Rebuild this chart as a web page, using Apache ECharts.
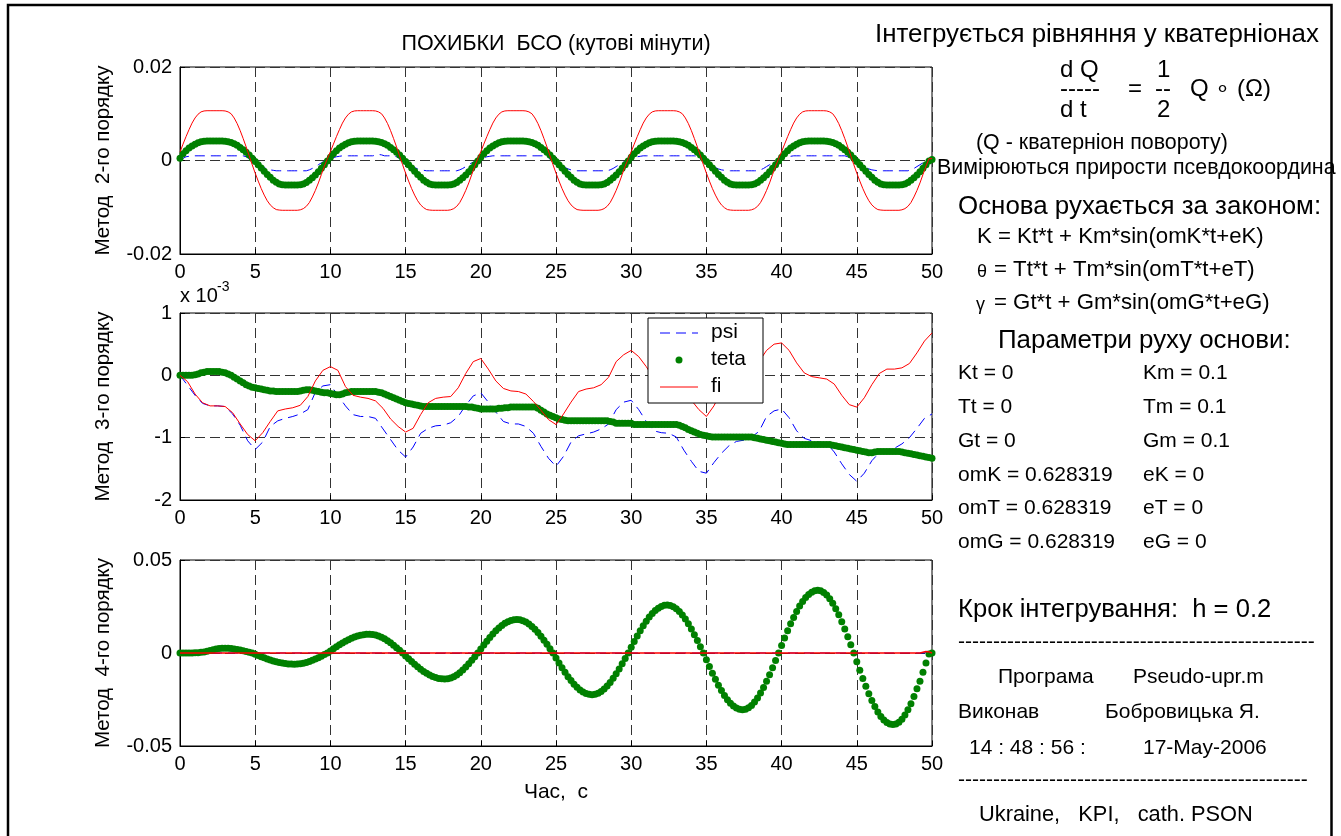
<!DOCTYPE html>
<html><head><meta charset="utf-8">
<script src="https://cdn.jsdelivr.net/npm/echarts@6/dist/echarts.min.js"></script>
<style>html,body{margin:0;padding:0;background:#fff}#c{width:1341px;height:836px}</style>
</head><body><div id="c"></div>
<script>
// ---------------- DATA ----------------
// time grid: integration step h = 0.2 s for the dotted series and plot 1 lines
const T_STEP = 0.2;
// psi / fi of plot 2 were read every 0.5 s
const T_STEP_LINE2 = 0.5;
const X_TICK_LABELS = [0, 5, 10, 15, 20, 25, 30, 35, 40, 45, 50];

// Plot 1 ("Метод 2-го порядку"), values in units of 1e-3
const psi1 = [
0,0.45,0.8,0.9,1.0, 1.0,1.0,1.0,1.0,1.0, 1.0,1.0,1.0,1.0,1.0, 1.0,1.0,1.0,1.0,1.0, 1.0,1.0,0.8,0.4,0.0, -0.4,-0.8,-1.2,-1.5,-1.8, -2.0,-2.1,-2.2,-2.2,-2.2, -2.2,-2.2,-2.2,-2.2,-2.2, -2.2,-2.2,-2.2,-2.0,-1.7, -1.3,-0.9,-0.5,-0.2,0.1,
0.3,0.6,0.8,0.9,1.0, 1.0,1.0,1.0,1.0,1.0, 1.0,1.0,1.0,1.0,1.0, 1.1,1.3,1.2,1.0,1.0, 1.0,1.0,0.8,0.4,0.0, -0.4,-0.8,-1.2,-1.5,-1.8, -2.0,-2.1,-2.2,-2.2,-2.2, -2.2,-2.2,-2.2,-2.2,-2.2, -2.2,-2.2,-2.2,-2.0,-1.7, -1.3,-0.9,-0.5,-0.2,0.1,
0.3,0.6,0.8,0.9,1.0, 1.0,1.0,1.0,1.0,1.0, 1.0,1.0,1.0,1.0,1.0, 1.0,1.0,1.0,1.0,1.0, 1.0,1.0,0.8,0.4,0.0, -0.4,-0.8,-1.2,-1.5,-1.8, -2.0,-2.1,-2.2,-2.2,-2.2, -2.2,-2.2,-2.2,-2.2,-2.2, -2.2,-2.2,-2.2,-2.0,-1.7, -1.3,-0.9,-0.5,-0.2,0.1,
0.3,0.6,0.8,0.9,1.0, 1.0,1.0,1.0,1.0,1.0, 1.0,1.0,1.0,1.0,1.0, 1.0,1.0,1.0,1.0,1.0, 1.0,1.0,0.8,0.4,0.0, -0.4,-0.8,-1.2,-1.5,-1.8, -2.0,-2.1,-2.2,-2.2,-2.2, -2.2,-2.2,-2.2,-2.2,-2.2, -2.2,-2.2,-2.2,-2.0,-1.7, -1.3,-0.9,-0.5,-0.2,0.1,
0.3,0.6,0.8,0.9,1.0, 1.0,1.0,1.0,1.0,1.0, 1.0,1.0,1.0,1.0,1.0, 1.0,1.0,1.0,1.0,1.0, 1.0,1.0,0.8,0.4,0.0, -0.4,-0.8,-1.2,-1.5,-1.8, -2.0,-2.1,-2.2,-2.2,-2.2, -2.2,-2.2,-2.2,-2.2,-2.2, -2.2,-2.2,-2.2,-2.0,-1.7, -1.3,-0.9,-0.5,-0.2,0.1,
0.1];
const teta1 = [
0.5,1.45,2.1,2.65,3.1, 3.5,3.8,4.0,4.1,4.15, 4.15,4.15,4.15,4.15,4.15, 4.1,4.0,3.85,3.6,3.25, 2.8,2.3,1.75,1.15,0.5, -0.2,-0.9,-1.6,-2.3,-3.0, -3.6,-4.2,-4.65,-5.0,-5.2, -5.25,-5.25,-5.25,-5.25,-5.25, -5.2,-5.0,-4.7,-4.25,-3.7, -3.1,-2.4,-1.65,-0.9,-0.1,
0.7,1.45,2.1,2.65,3.1, 3.5,3.8,4.0,4.1,4.15, 4.15,4.15,4.15,4.15,4.15, 4.1,4.0,3.85,3.6,3.25, 2.8,2.3,1.75,1.15,0.5, -0.2,-0.9,-1.6,-2.3,-3.0, -3.6,-4.2,-4.65,-5.0,-5.2, -5.25,-5.25,-5.25,-5.25,-5.25, -5.2,-5.0,-4.7,-4.25,-3.7, -3.1,-2.4,-1.65,-0.9,-0.1,
0.7,1.45,2.1,2.65,3.1, 3.5,3.8,4.0,4.1,4.15, 4.15,4.15,4.15,4.15,4.15, 4.1,4.0,3.85,3.6,3.25, 2.8,2.3,1.75,1.15,0.5, -0.2,-0.9,-1.6,-2.3,-3.0, -3.6,-4.2,-4.65,-5.0,-5.2, -5.25,-5.25,-5.25,-5.25,-5.25, -5.2,-5.0,-4.7,-4.25,-3.7, -3.1,-2.4,-1.65,-0.9,-0.1,
0.7,1.45,2.1,2.65,3.1, 3.5,3.8,4.0,4.1,4.15, 4.15,4.15,4.15,4.15,4.15, 4.1,4.0,3.85,3.6,3.25, 2.8,2.3,1.75,1.15,0.5, -0.2,-0.9,-1.6,-2.3,-3.0, -3.6,-4.2,-4.65,-5.0,-5.2, -5.25,-5.25,-5.25,-5.25,-5.25, -5.2,-5.0,-4.7,-4.25,-3.7, -3.1,-2.4,-1.65,-0.9,-0.1,
0.7,1.45,2.1,2.65,3.1, 3.5,3.8,4.0,4.1,4.15, 4.15,4.15,4.15,4.15,4.15, 4.1,4.0,3.85,3.6,3.25, 2.8,2.3,1.75,1.15,0.5, -0.2,-0.9,-1.6,-2.3,-3.0, -3.6,-4.2,-4.65,-5.0,-5.2, -5.25,-5.25,-5.25,-5.25,-5.25, -5.2,-5.0,-4.7,-4.25,-3.7, -3.1,-2.4,-1.65,-0.9,-0.1,
0.2];
const fi1 = [
1.8,3.5,5.1,6.6,8.0, 9.1,9.9,10.4,10.6,10.65, 10.65,10.65,10.65,10.65,10.65, 10.6,10.4,10.0,9.1,7.9, 6.4,4.7,2.9,1.0,-0.9, -2.7,-4.4,-6.0,-7.4,-8.6, -9.5,-10.1,-10.5,-10.6,-10.65, -10.65,-10.65,-10.65,-10.65,-10.65, -10.55,-10.3,-9.8,-9.0,-7.8, -6.4,-4.8,-3.0,-1.2,0.4,
1.9,3.5,5.1,6.6,8.0, 9.1,9.9,10.4,10.6,10.65, 10.65,10.65,10.65,10.65,10.65, 10.6,10.4,10.0,9.1,7.9, 6.4,4.7,2.9,1.0,-0.9, -2.7,-4.4,-6.0,-7.4,-8.6, -9.5,-10.1,-10.5,-10.6,-10.65, -10.65,-10.65,-10.65,-10.65,-10.65, -10.55,-10.3,-9.8,-9.0,-7.8, -6.4,-4.8,-3.0,-1.2,0.4,
1.9,3.5,5.1,6.6,8.0, 9.1,9.9,10.4,10.6,10.65, 10.65,10.65,10.65,10.65,10.65, 10.6,10.4,10.0,9.1,7.9, 6.4,4.7,2.9,1.0,-0.9, -2.7,-4.4,-6.0,-7.4,-8.6, -9.5,-10.1,-10.5,-10.6,-10.65, -10.65,-10.65,-10.65,-10.65,-10.65, -10.55,-10.3,-9.8,-9.0,-7.8, -6.4,-4.8,-3.0,-1.2,0.4,
1.9,3.5,5.1,6.6,8.0, 9.1,9.9,10.4,10.6,10.65, 10.65,10.65,10.65,10.65,10.65, 10.6,10.4,10.0,9.1,7.9, 6.4,4.7,2.9,1.0,-0.9, -2.7,-4.4,-6.0,-7.4,-8.6, -9.5,-10.1,-10.5,-10.6,-10.65, -10.65,-10.65,-10.65,-10.65,-10.65, -10.55,-10.3,-9.8,-9.0,-7.8, -6.4,-4.8,-3.0,-1.2,0.4,
1.9,3.5,5.1,6.6,8.0, 9.1,9.9,10.4,10.6,10.65, 10.65,10.65,10.65,10.65,10.65, 10.6,10.4,10.0,9.1,7.9, 6.4,4.7,2.9,1.0,-0.9, -2.7,-4.4,-6.0,-7.4,-8.6, -9.5,-10.1,-10.5,-10.6,-10.65, -10.65,-10.65,-10.65,-10.65,-10.65, -10.55,-10.3,-9.8,-9.0,-7.8, -6.4,-4.8,-3.0,-1.2,0.4,
0.4];

// Plot 2 ("Метод 3-го порядку"), values in units of 1e-3
const psi2 = [
0,-0.16,-0.32,-0.45,-0.49,-0.49,-0.50,-0.62,-0.80,-1.05,
-1.19,-1.07,-0.82,-0.73,-0.69,-0.66,-0.62,-0.55,-0.27,-0.17,
-0.15,-0.32,-0.49,-0.63,-0.66,-0.66,-0.69,-0.86,-1.03,-1.20,
-1.31,-1.15,-0.93,-0.85,-0.81,-0.80,-0.76,-0.66,-0.48,-0.33,
-0.28,-0.43,-0.59,-0.74,-0.78,-0.78,-0.82,-0.93,-1.14,-1.33,
-1.46,-1.30,-1.07,-0.97,-0.94,-0.91,-0.86,-0.78,-0.55,-0.43,
-0.40,-0.55,-0.74,-0.89,-0.92,-0.93,-0.99,-1.20,-1.38,-1.54,
-1.57,-1.40,-1.25,-1.13,-1.06,-1.04,-0.99,-0.90,-0.66,-0.57,
-0.54,-0.68,-0.89,-1.01,-1.05,-1.07,-1.09,-1.23,-1.42,-1.59,
-1.70,-1.57,-1.37,-1.24,-1.20,-1.17,-1.10,-1.00,-0.85,-0.69,
-0.62];
const teta2 = [
0,0,0,0,0, 0.01,0.02,0.04,0.05,0.06, 0.06,0.06,0.06,0.06,0.05, 0.04,0.02,0,-0.03,-0.06,
-0.09,-0.12,-0.15,-0.17,-0.19, -0.2,-0.21,-0.22,-0.23,-0.24, -0.25,-0.25,-0.26,-0.26,-0.26, -0.26,-0.26,-0.26,-0.26,-0.26,
-0.25,-0.24,-0.23,-0.23,-0.24, -0.25,-0.26,-0.27,-0.28,-0.28, -0.29,-0.3,-0.31,-0.31,-0.3, -0.28,-0.27,-0.26,-0.26,-0.26,
-0.26,-0.26,-0.26,-0.26,-0.26, -0.26,-0.27,-0.28,-0.3,-0.32, -0.34,-0.36,-0.38,-0.4,-0.42, -0.44,-0.45,-0.46,-0.47,-0.48,
-0.49,-0.5,-0.5,-0.5,-0.5, -0.5,-0.5,-0.5,-0.5,-0.5, -0.5,-0.5,-0.5,-0.5,-0.5, -0.5,-0.51,-0.51,-0.52,-0.53,
-0.54,-0.54,-0.54,-0.54,-0.54, -0.54,-0.53,-0.53,-0.52,-0.52, -0.51,-0.51,-0.51,-0.51,-0.51, -0.51,-0.51,-0.51,-0.51,-0.53,
-0.56,-0.59,-0.62,-0.64,-0.66, -0.68,-0.7,-0.71,-0.72,-0.73, -0.73,-0.73,-0.73,-0.73,-0.73, -0.73,-0.73,-0.73,-0.73,-0.73,
-0.73,-0.73,-0.73,-0.74,-0.75, -0.77,-0.77,-0.77,-0.77,-0.77, -0.77,-0.79,-0.79,-0.79,-0.79, -0.79,-0.79,-0.79,-0.79,-0.79,
-0.79,-0.79,-0.79,-0.79,-0.79, -0.79,-0.8,-0.82,-0.84,-0.87, -0.89,-0.91,-0.93,-0.95,-0.96, -0.97,-0.98,-0.99,-0.99,-0.99,
-0.99,-0.99,-0.99,-0.99,-0.99, -0.99,-0.99,-0.99,-0.99,-0.99, -0.99,-1.0,-1.01,-1.02,-1.03, -1.04,-1.05,-1.06,-1.07,-1.08,
-1.09,-1.1,-1.11,-1.11,-1.11, -1.11,-1.11,-1.11,-1.11,-1.11, -1.11,-1.11,-1.11,-1.11,-1.11, -1.11,-1.11,-1.12,-1.13,-1.14,
-1.15,-1.16,-1.17,-1.18,-1.19, -1.2,-1.21,-1.22,-1.23,-1.24, -1.24,-1.23,-1.22,-1.22,-1.22, -1.22,-1.22,-1.22,-1.22,-1.22,
-1.23,-1.24,-1.25,-1.26,-1.27, -1.28,-1.29,-1.3,-1.31,-1.32,
-1.33];
const fi2 = [
0,-0.10,-0.30,-0.44,-0.49,-0.49,-0.50,-0.60,-0.78,-0.95,
-1.05,-0.92,-0.74,-0.57,-0.54,-0.52,-0.48,-0.34,-0.09,0.08,
0.14,0.08,-0.18,-0.32,-0.35,-0.37,-0.41,-0.53,-0.70,-0.82,
-0.91,-0.85,-0.63,-0.44,-0.37,-0.35,-0.34,-0.20,0.03,0.22,
0.27,0.10,-0.09,-0.21,-0.25,-0.26,-0.30,-0.42,-0.56,-0.71,
-0.79,-0.62,-0.43,-0.26,-0.22,-0.20,-0.15,-0.03,0.22,0.33,
0.40,0.30,0.14,-0.05,-0.15,-0.18,-0.21,-0.28,-0.40,-0.55,
-0.66,-0.49,-0.25,-0.07,-0.02,0.00,0.05,0.22,0.40,0.50,
0.52,0.40,0.20,0.04,-0.02,-0.04,-0.06,-0.14,-0.32,-0.47,
-0.51,-0.36,-0.15,0.03,0.10,0.10,0.12,0.19,0.36,0.55,
0.68];

// Plot 3 ("Метод 4-го порядку"), values in units of 1e-3
const teta3 = [
0,0,0,0,0.05, 0.1,0.2,0.35,0.6,0.9, 1.3,1.7,2.1,2.4,2.55, 2.6,2.55,2.4,2.2,1.9, 1.6,1.2,0.8,0.4,0,
-0.67,-1.34,-1.98,-2.6,-3.19, -3.74,-4.24,-4.69,-5.08,-5.41, -5.66,-5.85,-5.96,-6.0,-5.94, -5.76,-5.46,-5.05,-4.53,-3.93, -3.24,-2.49,-1.69,-0.85,0,
1.13,2.25,3.34,4.38,5.37, 6.3,7.14,7.9,8.55,9.1, 9.53,9.85,10.04,10.1,10.0, 9.69,9.19,8.5,7.63,6.61, 5.46,4.2,2.85,1.44,0,
-1.57,-3.12,-4.62,-6.07,-7.45, -8.73,-9.9,-10.95,-11.85,-12.61, -13.21,-13.65,-13.91,-14.0,-13.86, -13.43,-12.73,-11.78,-10.58,-9.17, -7.57,-5.82,-3.94,-1.99,0,
2.17,4.31,6.38,8.36,10.23, 11.94,13.47,14.81,15.94,16.83, 17.48,17.87,18.0,17.85,17.39, 16.63,15.59,14.28,12.73,10.96, 9.0,6.89,4.66,2.35,0,
-2.7,-5.36,-7.94,-10.41,-12.73, -14.85,-16.77,-18.44,-19.84,-20.94, -21.75,-22.24,-22.4,-22.21,-21.64, -20.7,-19.4,-17.77,-15.84,-13.64, -11.2,-8.57,-5.8,-2.92,0,
3.11,6.17,9.15,11.99,14.66, 17.11,19.31,21.23,22.85,24.12, 25.05,25.61,25.8,25.58,24.92, 23.84,22.34,20.47,18.24,15.71, 12.9,9.87,6.68,3.37,0,
-3.68,-7.3,-10.82,-14.17,-17.33, -20.22,-22.83,-25.1,-27.01,-28.52, -29.61,-30.28,-30.5,-30.24,-29.46, -28.18,-26.41,-24.2,-21.57,-18.57, -15.25,-11.67,-7.89,-3.98,0,
4.06,8.06,11.95,15.66,19.14, 22.35,25.22,27.74,29.84,31.51, 32.72,33.45,33.7,33.41,32.55, 31.14,29.18,26.74,23.83,20.52, 16.85,12.9,8.72,4.4,0,
-4.64,-9.21,-13.65,-17.89,-21.87, -25.53,-28.82,-31.69,-34.09,-36.0, -37.38,-38.22,-38.5,-38.17,-37.19, -35.57,-33.34,-30.55,-27.22,-23.44, -19.25,-15.2,-10.3,-5.4,-0.5,
0];
// psi and fi of plot 3 stay on zero (small blip at the very end)
const psi3Times = [0, 49.4, 49.8, 50];
const psi3 = [0, 0, 0.4, 0];
const fi3Times = [0, 49.2, 49.6, 49.8, 50];
const fi3 = [0, 0, 0.8, 0.6, 0];

// ---------------- helpers ----------------
const FONT = 'Arial, "Liberation Sans", Helvetica, sans-serif';
function pts(vals, step) { return vals.map((v, i) => [Math.round(i * step * 10) / 10, v]); }
function ptsT(ts, vals) { return ts.map((t, i) => [t, vals[i]]); }

const BLUE = '#0000ff', GREEN = '#008000', RED = '#ff0000';
const GRID_LINE = { show: true, lineStyle: { color: '#333', width: 1, type: [10, 5] } };

const grids = [
  { left: 180, top: 67, width: 752, height: 187 },
  { left: 180, top: 313, width: 752, height: 187 },
  { left: 180, top: 560, width: 752, height: 186 }
].map(g => Object.assign(g, { show: true, borderColor: '#000', borderWidth: 1, backgroundColor: '#fff', containLabel: false }));

function xAx(i, name) {
  return {
    type: 'value', gridIndex: i, min: X_TICK_LABELS[0], max: X_TICK_LABELS[X_TICK_LABELS.length - 1], interval: 5,
    axisLine: { show: true, onZero: false, lineStyle: { color: '#000', width: 1 } },
    axisTick: { show: true, inside: true, length: 5, lineStyle: { color: '#000' } },
    axisLabel: { color: '#000', fontSize: 20, fontFamily: FONT, margin: 8 },
    splitLine: GRID_LINE,
    name: name || '', nameLocation: 'middle', nameGap: 36,
    nameTextStyle: { color: '#000', fontSize: 21, fontFamily: FONT }
  };
}
function yAx(i, name, min, max, interval, fmt) {
  return {
    type: 'value', gridIndex: i, min: min, max: max, interval: interval,
    axisLine: { show: true, onZero: false, lineStyle: { color: '#000', width: 1 } },
    axisTick: { show: true, inside: true, length: 5, lineStyle: { color: '#000' } },
    axisLabel: { color: '#000', fontSize: 20, fontFamily: FONT, margin: 8, formatter: fmt },
    splitLine: GRID_LINE,
    name: name, nameLocation: 'middle', nameRotate: 90, nameGap: 66,
    nameTextStyle: { color: '#000', fontSize: 20.5, fontFamily: FONT }
  };
}
const milliFmt = v => (v === 0 ? '0' : String(v / 1000));

function lineS(i, data, color, dashed, width) {
  return { type: 'line', xAxisIndex: i, yAxisIndex: i, data: data, showSymbol: false, symbol: 'none',
    lineStyle: { color: color, width: width || 1, type: dashed ? [10, 6] : 'solid' }, silent: true, z: dashed ? 2 : 4 };
}
function dotS(i, data) {
  return { type: 'scatter', xAxisIndex: i, yAxisIndex: i, data: data, symbol: 'circle', symbolSize: 7,
    itemStyle: { color: GREEN, opacity: 1 }, silent: true, z: 3 };
}

// ---------------- text panel ----------------
function T(text, x, y, size, extra) {
  return Object.assign({ type: 'text', x: x, y: y, z: 100,
    style: { text: text, fill: '#000', font: size + 'px ' + FONT, textAlign: 'left', textVerticalAlign: 'middle' } }, extra || {});
}
const DASHES1 = '---------------------------------------------------';
const DASHES2 = '--------------------------------------------------';
const panel = [
  T('Інтегрується рівняння у кватерніонах', 875, 35, 25.9),
  T('d Q', 1060, 70, 24), T('-----', 1060, 89, 24), T('d t', 1060, 110, 24),
  T('=', 1128, 89, 24),
  T('1', 1157, 70, 24), T('--', 1155, 89, 24), T('2', 1157, 110, 24),
  T('Q ∘ (Ω)', 1190, 89, 24),
  T('(Q - кватерніон повороту)', 976, 143, 21.4),
  T('Вимірюються прирости псевдокоордина', 937, 168, 21.4),
  T('Основа рухається за законом:', 958, 207, 25.9),
  T('K = Kt*t + Km*sin(omK*t+eK)', 977, 237, 22.2),
  T('θ', 977, 272, 18), T('= Tt*t + Tm*sin(omT*t+eT)', 994, 270, 22.2),
  T('γ', 976, 305, 18), T('= Gt*t + Gm*sin(omG*t+eG)', 994, 303, 22.2),
  T('Параметри руху основи:', 998, 341, 25.9),
  T('Kt = 0', 958, 373, 21), T('Km = 0.1', 1143, 373, 21),
  T('Tt = 0', 958, 407, 21), T('Tm = 0.1', 1143, 407, 21),
  T('Gt = 0', 958, 441, 21), T('Gm = 0.1', 1143, 441, 21),
  T('omK = 0.628319', 958, 475, 21), T('eK = 0', 1143, 475, 21),
  T('omT = 0.628319', 958, 508, 21), T('eT = 0', 1143, 508, 21),
  T('omG = 0.628319', 958, 542, 21), T('eG = 0', 1143, 542, 21),
  T('Крок інтегрування:  h = 0.2', 958, 610, 25.6),
  T(DASHES1, 958, 642, 21),
  T('Програма', 998, 677, 21), T('Pseudo-upr.m', 1133, 677, 21),
  T('Виконав', 958, 712, 21), T('Бобровицька Я.', 1105, 712, 21),
  T('14 : 48 : 56 :', 969, 748, 21), T('17-May-2006', 1143, 748, 21),
  T(DASHES2, 958, 780, 21),
  T('Ukraine,   KPI,   cath. PSON', 979, 815, 21.8)
];

const legend = [
  { type: 'rect', z: 100, shape: { x: 648, y: 318, width: 115, height: 85 }, style: { fill: '#fff', stroke: '#000', lineWidth: 1 } },
  { type: 'line', z: 101, shape: { x1: 660, y1: 333, x2: 698, y2: 333 }, style: { stroke: BLUE, lineWidth: 1, lineDash: [10, 6] } },
  T('psi', 711, 332, 21, { z: 101 }),
  { type: 'circle', z: 101, shape: { cx: 679, cy: 360, r: 3.5 }, style: { fill: GREEN } },
  T('teta', 711, 359, 21, { z: 101 }),
  { type: 'line', z: 101, shape: { x1: 660, y1: 387, x2: 698, y2: 387 }, style: { stroke: RED, lineWidth: 1 } },
  T('fi', 711, 386, 21, { z: 101 })
];

const misc = [
  { type: 'rect', z: 90, shape: { x: 8, y: 5, width: 1323.5, height: 900 }, style: { fill: null, stroke: '#000', lineWidth: 2.5 } },
  T('ПОХИБКИ  БСО (кутові мінути)', 556, 44, 21.5, { style: { text: 'ПОХИБКИ  БСО (кутові мінути)', fill: '#000', font: '21.5px ' + FONT, textAlign: 'center', textVerticalAlign: 'middle' } }),
  T('x 10', 180, 296, 20),
  T('-3', 217, 287, 14)
];

const option = {
  animation: false,
  backgroundColor: '#fff',
  grid: grids,
  xAxis: [xAx(0), xAx(1), xAx(2, 'Час,  с')],
  yAxis: [
    yAx(0, 'Метод  2-го порядку', -20, 20, 20, milliFmt),
    yAx(1, 'Метод  3-го порядку', -2, 1, 1, v => String(v)),
    yAx(2, 'Метод  4-го порядку', -50, 50, 50, milliFmt)
  ],
  series: [
    lineS(0, pts(psi1, T_STEP), BLUE, true),
    dotS(0, pts(teta1, T_STEP)),
    lineS(0, pts(fi1, T_STEP), RED, false),
    lineS(1, pts(psi2, T_STEP_LINE2), BLUE, true),
    dotS(1, pts(teta2, T_STEP)),
    lineS(1, pts(fi2, T_STEP_LINE2), RED, false),
    lineS(2, ptsT(psi3Times, psi3), BLUE, true),
    dotS(2, pts(teta3, T_STEP)),
    lineS(2, ptsT(fi3Times, fi3), RED, false, 1.4)
  ],
  graphic: { elements: misc.concat(panel, legend) }
};

const chart = echarts.init(document.getElementById('c'), null, { renderer: 'canvas' });
chart.setOption(option);
</script></body></html>
